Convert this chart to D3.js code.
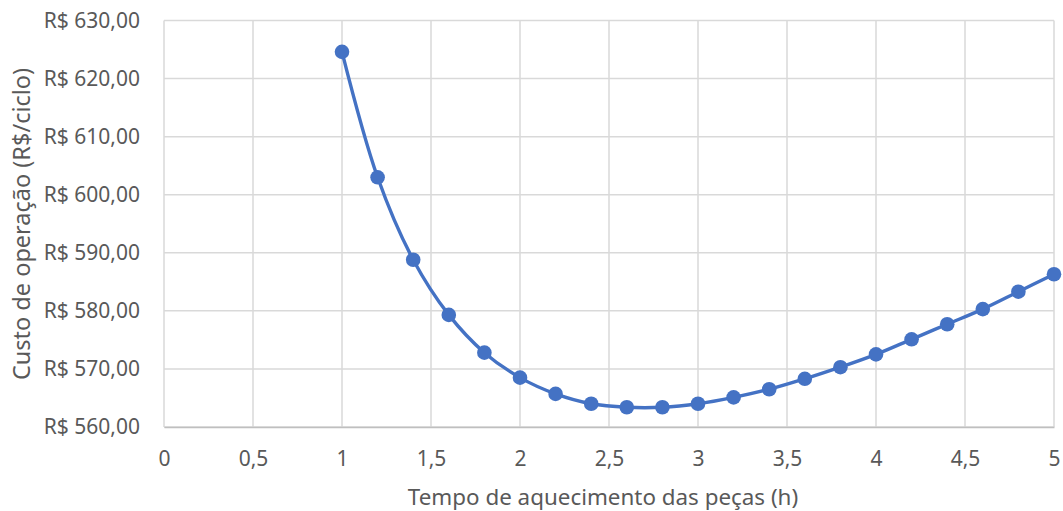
<!DOCTYPE html>
<html>
<head>
<meta charset="utf-8">
<script src="https://cdn.jsdelivr.net/npm/d3@7"></script>
<style>
  html, body { margin: 0; padding: 0; background: #fff; }
  svg { display: block; }
  text { font-family: "Noto Sans", "Open Sans", sans-serif; fill: #595959; }
</style>
</head>
<body>
<svg id="chart" width="1063" height="511"></svg>
<script>
// Heating time (h) and operating cost per cycle (R$)
const tempo = [1.0, 1.2, 1.4, 1.6, 1.8, 2.0, 2.2, 2.4, 2.6, 2.8, 3.0,
               3.2, 3.4, 3.6, 3.8, 4.0, 4.2, 4.4, 4.6, 4.8, 5.0];
const custo = [624.6, 603.0, 588.8, 579.3, 572.8, 568.5, 565.7, 564.0, 563.4, 563.4, 564.0,
               565.1, 566.5, 568.3, 570.3, 572.5, 575.1, 577.7, 580.3, 583.3, 586.3];
const xTicks = [0, 0.5, 1, 1.5, 2, 2.5, 3, 3.5, 4, 4.5, 5];
const yTicks = [560, 570, 580, 590, 600, 610, 620, 630];
const xTitle = "Tempo de aquecimento das peças (h)";
const yTitle = "Custo de operação (R$/ciclo)";

const svg = d3.select("#chart");
const m = { left: 164, right: 1054, top: 20.5, bottom: 427 };

const x = d3.scaleLinear().domain([0, 5]).range([m.left, m.right]);
const y = d3.scaleLinear().domain([560, 630]).range([m.bottom, m.top]);

const ptBR = d3.formatLocale({ decimal: ",", thousands: ".", grouping: [3], currency: ["R$ ", ""] });
const fmtNum = v => ptBR.format("~g")(v);
const fmtMoney = v => "R$ " + ptBR.format(",.2f")(v);

// gridlines
const grid = svg.append("g");
grid.selectAll("line.v").data(xTicks).join("line")
  .attr("x1", d => x(d)).attr("x2", d => x(d))
  .attr("y1", m.top).attr("y2", m.bottom)
  .attr("stroke", "#d9d9d9").attr("stroke-width", 1.5);
grid.selectAll("line.h").data(yTicks).join("line")
  .attr("x1", m.left).attr("x2", m.right)
  .attr("y1", d => y(d)).attr("y2", d => y(d))
  .attr("stroke", "#d9d9d9").attr("stroke-width", 1.5);

// axes
const xAxis = svg.append("g").attr("transform", `translate(0,${m.bottom})`)
  .call(d3.axisBottom(x).tickValues(xTicks).tickFormat(fmtNum).tickSize(0).tickPadding(24));
xAxis.select(".domain").attr("stroke", "#bfbfbf").attr("stroke-width", 1.5);
xAxis.selectAll("text").style("font-size", "21px").attr("fill", "#595959");

const yAxis = svg.append("g").attr("transform", `translate(${m.left},0)`)
  .call(d3.axisLeft(y).tickValues(yTicks).tickFormat(fmtMoney).tickSize(0).tickPadding(24));
yAxis.select(".domain").remove();
yAxis.selectAll("text").style("font-size", "21px").attr("fill", "#595959");

// axis titles
svg.append("text").attr("x", 603).attr("y", 505)
  .attr("text-anchor", "middle").style("font-size", "22.4px").text(xTitle);
svg.append("text").attr("transform", `translate(30,${224}) rotate(-90)`)
  .attr("text-anchor", "middle").style("font-size", "23.5px").text(yTitle);

// smoothed series line
const pts = tempo.map((t, i) => [t, custo[i]]);
const line = d3.line().x(d => x(d[0])).y(d => y(d[1])).curve(d3.curveCatmullRom.alpha(0.5));
svg.append("path").datum(pts).attr("d", line)
  .attr("fill", "none").attr("stroke", "#4472c4").attr("stroke-width", 3.4);

// markers
svg.append("g").selectAll("circle").data(pts).join("circle")
  .attr("cx", d => x(d[0])).attr("cy", d => y(d[1])).attr("r", 7.3)
  .attr("fill", "#4472c4");
</script>
</body>
</html>
